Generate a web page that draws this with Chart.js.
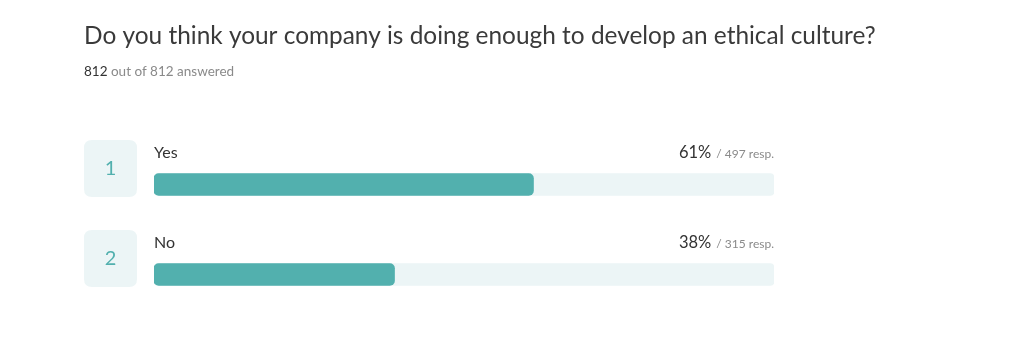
<!DOCTYPE html>
<html>
<head>
<meta charset="utf-8">
<script src="https://cdn.jsdelivr.net/npm/chart.js@4"></script>
<style>
html,body{margin:0;padding:0;background:#fff;}
#wrap{position:relative;width:1024px;height:345px;}
</style>
</head>
<body>
<div id="wrap"><canvas id="c" width="1024" height="345"></canvas></div>
<script>
const titleText = "Do you think your company is doing enough to develop an ethical culture?";
const answeredCount = 812;
const totalCount = 812;
const categories = ["Yes", "No"];
const responses = [497, 315];
const percentLabels = ["61%", "38%"];
const indexLabels = ["1", "2"];

const FONT = "Lato, 'Noto Sans', sans-serif";
const TEAL = "#52B0AE";
const TRACK = "#ECF5F6";

function roundRect(ctx, x, y, w, h, r) {
  ctx.beginPath();
  ctx.moveTo(x + r, y);
  ctx.lineTo(x + w - r, y);
  ctx.quadraticCurveTo(x + w, y, x + w, y + r);
  ctx.lineTo(x + w, y + h - r);
  ctx.quadraticCurveTo(x + w, y + h, x + w - r, y + h);
  ctx.lineTo(x + r, y + h);
  ctx.quadraticCurveTo(x, y + h, x, y + h - r);
  ctx.lineTo(x, y + r);
  ctx.quadraticCurveTo(x, y, x + r, y);
  ctx.closePath();
}

const decor = {
  id: 'decor',
  afterDraw(chart) {
    const ctx = chart.ctx;
    const yScale = chart.scales.y;
    const area = chart.chartArea;
    ctx.save();
    // title
    ctx.textBaseline = 'alphabetic';
    ctx.textAlign = 'left';
    ctx.fillStyle = '#3a3a3a';
    ctx.font = "24px " + FONT;
    const tw = ctx.measureText(titleText).width;
    const target = 792;
    const fs = 24 * target / tw;
    ctx.font = fs.toFixed(2) + "px " + FONT;
    ctx.fillText(titleText, 84, 44);
    // subtitle
    ctx.font = "13.5px " + FONT;
    ctx.fillStyle = '#333';
    const a = String(answeredCount);
    ctx.fillText(a, 84, 76);
    const aw = ctx.measureText(a + " ").width;
    ctx.fillStyle = '#8a8a8a';
    ctx.fillText("out of " + totalCount + " answered", 84 + aw, 76);

    categories.forEach((cat, i) => {
      const cy = yScale.getPixelForValue(i);
      // index box
      ctx.fillStyle = TRACK;
      roundRect(ctx, 84, cy - 44.5, 53, 57, 8);
      ctx.fill();
      ctx.fillStyle = TEAL;
      ctx.font = "20px " + FONT;
      ctx.textAlign = 'center';
      ctx.textBaseline = 'middle';
      ctx.fillText(indexLabels[i], 110.5, cy - 15.5);
      // category label
      ctx.textAlign = 'left';
      ctx.textBaseline = 'alphabetic';
      ctx.fillStyle = '#333';
      ctx.font = "16px " + FONT;
      ctx.fillText(cat, area.left, cy - 26.5);
      // right labels
      ctx.textAlign = 'right';
      ctx.font = "12px " + FONT;
      ctx.fillStyle = '#8a8a8a';
      const small = "/ " + responses[i] + " resp.";
      ctx.fillText(small, area.right, cy - 26.5);
      const sw = ctx.measureText(small).width;
      ctx.font = "16.5px " + FONT;
      ctx.fillStyle = '#333';
      ctx.fillText(percentLabels[i], area.right - sw - 5, cy - 26.5);
    });
    ctx.restore();
  }
};

new Chart(document.getElementById('c'), {
  type: 'bar',
  data: {
    labels: categories,
    datasets: [
      {
        data: responses,
        backgroundColor: TEAL,
        borderRadius: 5,
        borderSkipped: false,
        barThickness: 22,
        grouped: false,
        order: 1
      },
      {
        data: categories.map(() => totalCount),
        backgroundColor: TRACK,
        borderRadius: 4,
        borderSkipped: false,
        barThickness: 22,
        grouped: false,
        order: 2
      }
    ]
  },
  options: {
    indexAxis: 'y',
    responsive: false,
    animation: false,
    layout: { padding: { left: 154, right: 250, top: 139.5, bottom: 25.5 } },
    plugins: { legend: { display: false }, tooltip: { enabled: false } },
    scales: {
      x: { display: false, min: 0, max: totalCount },
      y: { display: false, offset: true }
    }
  },
  plugins: [decor]
});
</script>
</body>
</html>
